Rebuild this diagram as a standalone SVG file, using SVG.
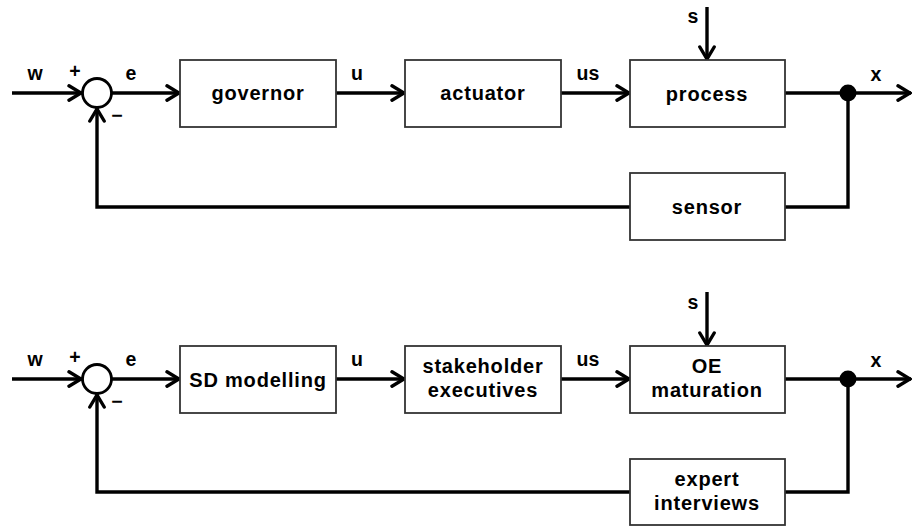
<svg xmlns="http://www.w3.org/2000/svg" width="912" height="526" viewBox="0 0 912 526">
<style>
.box{fill:#fff;stroke:#333;stroke-width:1.8}
.line{fill:none;stroke:#000;stroke-width:3.4;stroke-linejoin:miter}
.t{font-family:"Liberation Sans",Arial,sans-serif;font-weight:bold;font-size:20px;letter-spacing:0.8px;fill:#000;text-anchor:middle}
.l{font-family:"Liberation Sans",Arial,sans-serif;font-weight:bold;font-size:19.5px;fill:#000;text-anchor:middle}
.sum{fill:#fff;stroke:#000;stroke-width:2.8}
</style>
<defs>
<marker id="arr" viewBox="0 0 16 18" refX="15" refY="9" markerWidth="16" markerHeight="18" markerUnits="userSpaceOnUse" orient="auto">
<path d="M2,1.8 L14,9 L2,16.2" fill="none" stroke="#000" stroke-width="3.4" stroke-linecap="round" stroke-linejoin="miter"/>
</marker>
</defs>
<g id="connectors">
<path class="line" d="M12,93 L82,93" marker-end="url(#arr)"/>
<path class="line" d="M111,93 L180,93" marker-end="url(#arr)"/>
<path class="line" d="M336,93 L405,93" marker-end="url(#arr)"/>
<path class="line" d="M561,93 L630,93" marker-end="url(#arr)"/>
<path class="line" d="M785,93 L911,93" marker-end="url(#arr)"/>
<path class="line" d="M707,7 L707,60" marker-end="url(#arr)"/>
<path class="line" d="M848,93 L848,207 L785,207"/>
<path class="line" d="M630,207 L97,207 L97,108" marker-end="url(#arr)"/>
<circle cx="848" cy="93" r="8.5" fill="#000"/>
<path class="line" d="M12,379 L82,379" marker-end="url(#arr)"/>
<path class="line" d="M111,379 L180,379" marker-end="url(#arr)"/>
<path class="line" d="M336,379 L405,379" marker-end="url(#arr)"/>
<path class="line" d="M561,379 L630,379" marker-end="url(#arr)"/>
<path class="line" d="M785,379 L911,379" marker-end="url(#arr)"/>
<path class="line" d="M707,292 L707,346" marker-end="url(#arr)"/>
<path class="line" d="M848,379 L848,492 L785,492"/>
<path class="line" d="M630,492 L97,492 L97,394" marker-end="url(#arr)"/>
<circle cx="848" cy="379" r="8.5" fill="#000"/>
</g>
<g id="sum1"><circle class="sum" cx="97" cy="93" r="14.5"/></g>
<g id="sum2"><circle class="sum" cx="97" cy="379" r="14.5"/></g>
<g id="governor"><rect class="box" x="180" y="60" width="156" height="67"/><text class="t" x="258" y="100">governor</text></g>
<g id="actuator"><rect class="box" x="405" y="60" width="156" height="67"/><text class="t" x="483" y="100">actuator</text></g>
<g id="process"><rect class="box" x="630" y="60" width="155" height="67"/><text class="t" x="707" y="101">process</text></g>
<g id="sensor"><rect class="box" x="630" y="173" width="155" height="67"/><text class="t" x="707" y="214">sensor</text></g>
<g id="sd"><rect class="box" x="180" y="346" width="156" height="67"/><text class="t" x="258" y="387">SD modelling</text></g>
<g id="stakeholder"><rect class="box" x="405" y="346" width="156" height="67"/><text class="t" x="483" y="373">stakeholder</text><text class="t" x="483" y="397">executives</text></g>
<g id="oe"><rect class="box" x="630" y="346" width="155" height="67"/><text class="t" x="707" y="373">OE</text><text class="t" x="707" y="397">maturation</text></g>
<g id="expert"><rect class="box" x="630" y="459" width="155" height="66"/><text class="t" x="707" y="486">expert</text><text class="t" x="707" y="510">interviews</text></g>
<g id="labels">
<text class="l" x="35" y="80">w</text>
<text class="l" x="75" y="78">+</text>
<text class="l" x="131" y="80">e</text>
<text class="l" x="117" y="122">−</text>
<text class="l" x="357" y="80">u</text>
<text class="l" x="588" y="80">us</text>
<text class="l" x="693" y="23">s</text>
<text class="l" x="876" y="81">x</text>
<text class="l" x="35" y="366">w</text>
<text class="l" x="75" y="364">+</text>
<text class="l" x="131" y="366">e</text>
<text class="l" x="117" y="408">−</text>
<text class="l" x="357" y="366">u</text>
<text class="l" x="588" y="366">us</text>
<text class="l" x="693" y="309">s</text>
<text class="l" x="876" y="367">x</text>
</g>
</svg>
